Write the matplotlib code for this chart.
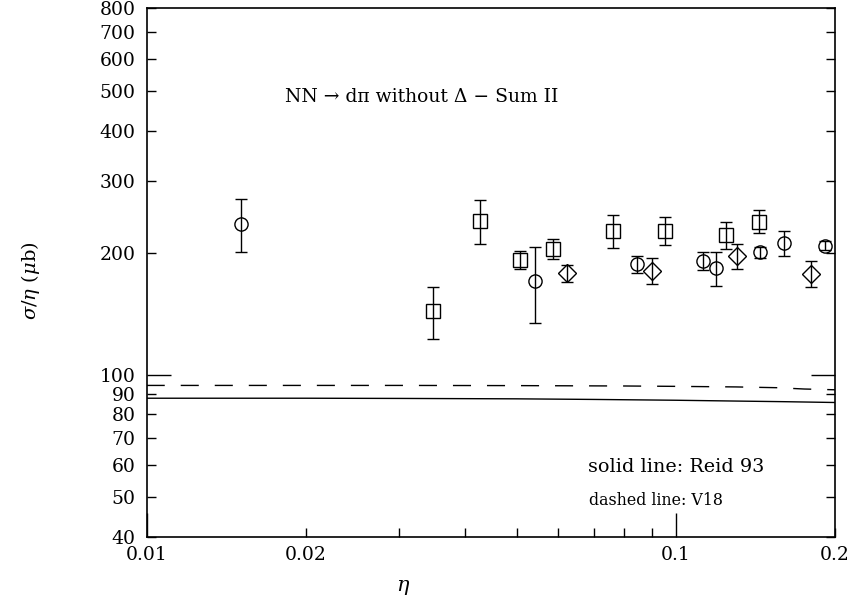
import matplotlib
matplotlib.use("Agg")
import matplotlib.pyplot as plt
from matplotlib.ticker import FixedLocator, FixedFormatter

plt.rcParams["font.family"] = ["DejaVu Serif"]
plt.rcParams["mathtext.fontset"] = "dejavuserif"
plt.rcParams["lines.scale_dashes"] = False

# data points (eta, sigma/eta, error)
circ_eta = [0.01506, 0.0542, 0.0844, 0.1125, 0.1192, 0.1444, 0.1602, 0.1915]
circ_val = [235.6, 170.6, 187.6, 191.0, 183.3, 200.7, 211.2, 208.3]
circ_err = [35.0, 36.0, 9.0, 10.0, 18.0, 6.0, 15.0, 5.0]

sq_eta = [0.0348, 0.04267, 0.05078, 0.0587, 0.0762, 0.0954, 0.1243, 0.1438]
sq_val = [143.8, 239.8, 192.0, 204.9, 226.9, 226.9, 221.4, 238.8]
sq_err = [21.0, 30.0, 10.0, 12.0, 21.0, 17.5, 17.0, 15.5]

dia_eta = [0.06223, 0.0901, 0.1304, 0.1803]
dia_val = [178.2, 180.8, 196.8, 177.4]
dia_err = [8.5, 13.0, 14.0, 13.0]

# model curves
reid_eta = [0.01, 0.02, 0.03, 0.05, 0.07, 0.1, 0.13, 0.16, 0.2]
reid_val = [87.7, 87.7, 87.6, 87.4, 87.1, 86.7, 86.3, 86.0, 85.6]
v18_eta = [0.01, 0.03, 0.05, 0.08, 0.1, 0.13, 0.155, 0.175, 0.2]
v18_val = [94.3, 94.3, 94.2, 94.0, 93.8, 93.5, 93.1, 92.4, 92.0]

y_minor = [40, 50, 60, 70, 80, 90, 200, 300, 400, 500, 600, 700, 800]
x_minor = [0.02, 0.03, 0.04, 0.05, 0.06, 0.07, 0.08, 0.09, 0.2]

fig = plt.figure(figsize=(8.48, 5.96), dpi=100)
ax = fig.add_axes([0.173, 0.0995, 0.8117, 0.8866])

ax.set_xscale("log")
ax.set_yscale("log")

ax.plot(reid_eta, reid_val, color="black", lw=1.0)
ax.plot(v18_eta, v18_val, color="black", lw=1.0, dashes=(13, 11.5))

eb_kw = dict(ls="none", color="black", mfc="none", mec="black", mew=1.0,
             elinewidth=1.0, capsize=4, capthick=1.0)
ax.errorbar(circ_eta, circ_val, yerr=circ_err, marker="o", ms=9.5, **eb_kw)
ax.errorbar(sq_eta, sq_val, yerr=sq_err, marker="s", ms=9.5, **eb_kw)
ax.errorbar(dia_eta, dia_val, yerr=dia_err, marker="D", ms=9.5, **eb_kw)

ax.set_xlim(0.01, 0.2)
ax.set_ylim(40, 800)

ax.xaxis.set_major_locator(FixedLocator([0.01, 0.1]))
ax.xaxis.set_major_formatter(FixedFormatter(["0.01", "0.1"]))
ax.xaxis.set_minor_locator(FixedLocator(x_minor))
ax.xaxis.set_minor_formatter(FixedFormatter(
    ["0.02", "", "", "", "", "", "", "", "0.2"]))

ax.yaxis.set_major_locator(FixedLocator([100]))
ax.yaxis.set_major_formatter(FixedFormatter(["100"]))
ax.yaxis.set_minor_locator(FixedLocator(y_minor))
ax.yaxis.set_minor_formatter(FixedFormatter([str(v) for v in y_minor]))

ax.tick_params(which="both", direction="in", labelsize=13.5, width=1.0,
               left=True, right=True, bottom=True, top=False)
ax.tick_params(which="major", length=17)
ax.tick_params(which="minor", length=6.5)
ax.tick_params(axis="y", which="both", pad=8)
ax.tick_params(axis="x", which="both", pad=7)

for s in ax.spines.values():
    s.set_linewidth(1.2)

ax.text(0.399, 0.832, "NN \u2192 d\u03c0 without \u0394 \u2212 Sum II",
        transform=ax.transAxes, ha="center", va="center", fontsize=13.5)
ax.text(0.641, 0.132, "solid line: Reid 93", transform=ax.transAxes,
        ha="left", va="center", fontsize=13.8)
ax.text(0.643, 0.069, "dashed line: V18", transform=ax.transAxes,
        ha="left", va="center", fontsize=11.4)

ax.set_ylabel(r"$\sigma/\eta$ ($\mu$b)", fontsize=14)
ax.yaxis.set_label_coords(-0.152, 0.484)
ax.set_xlabel(r"$\eta$", fontsize=15)
ax.xaxis.set_label_coords(0.372, -0.078)

fig.savefig("out.png", dpi=100)
